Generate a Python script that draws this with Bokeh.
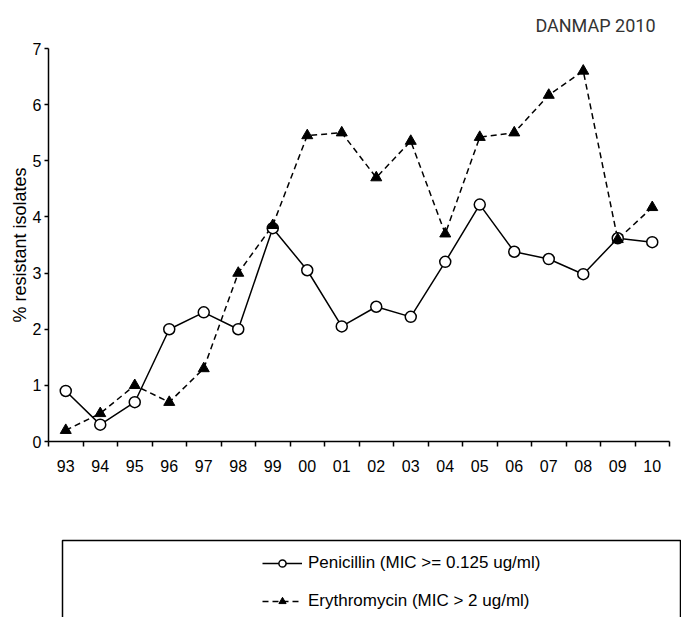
from bokeh.plotting import figure
from bokeh.models import (Range1d, FixedTicker, LinearAxis, Legend,
                          LegendItem, ColumnDataSource, BoxAnnotation)
from bokeh.layouts import column
from bokeh.embed import file_html
from bokeh.resources import INLINE

# ---- data ----
years = ["93", "94", "95", "96", "97", "98", "99", "00", "01",
         "02", "03", "04", "05", "06", "07", "08", "09", "10"]
penicillin = [0.9, 0.3, 0.7, 2.0, 2.3, 2.0, 3.8, 3.05, 2.05,
              2.4, 2.22, 3.2, 4.22, 3.38, 3.25, 2.98, 3.62, 3.55]
erythromycin = [0.2, 0.5, 1.0, 0.7, 1.3, 3.0, 3.85, 5.45, 5.5,
                4.7, 5.35, 3.7, 5.42, 5.5, 6.17, 6.6, 3.6, 4.17]
y_ticks = [0, 1, 2, 3, 4, 5, 6, 7]
pen_label = "Penicillin (MIC >= 0.125 ug/ml)"
ery_label = "Erythromycin (MIC > 2 ug/ml)"
title_text = "DANMAP 2010"
y_label = "% resistant isolates"

FONT = "Liberation Sans"
W, H = 681, 617
FL, FT, FB = 48, 47, 441        # plot area edges (px)
AXIS_RIGHT = 669                # where the category axis ends (px)
TOP_H = 538                     # height of the chart part; legend part below

n = len(years)
ymax = y_ticks[-1]
x_pos = [i + 0.5 for i in range(n)]
source = ColumnDataSource(dict(x=x_pos, year=years, pen=penicillin, ery=erythromycin))

# frame runs to the right canvas edge; the axis itself is bounded to the categories
x_end = n * (W - FL) / (AXIS_RIGHT - FL)

p = figure(width=W, height=TOP_H,
           x_range=Range1d(0, x_end), y_range=Range1d(0, ymax),
           x_axis_type=None, y_axis_type=None,
           output_backend="svg", toolbar_location=None,
           min_border_left=FL, min_border_right=0,
           min_border_top=FT, min_border_bottom=TOP_H - FB)
p.outline_line_color = None
p.background_fill_color = "white"
p.border_fill_color = "white"

p.title.text = title_text
p.title.align = "right"
p.title.offset = 26
p.title.standoff = 25
p.title.text_font = "Roboto"
p.title.text_font_size = "18px"
p.title.text_font_style = "normal"
p.title.text_color = "#333333"

xaxis = LinearAxis(
    ticker=FixedTicker(ticks=x_pos, minor_ticks=list(range(n + 1))),
    major_label_overrides={x: y for x, y in zip(x_pos, years)},
    bounds=(0, n))
xaxis.major_tick_out = 0
xaxis.major_tick_in = 0
xaxis.minor_tick_out = 5
xaxis.minor_tick_in = 0
xaxis.minor_tick_line_color = "black"
xaxis.minor_tick_line_width = 1.5
xaxis.axis_line_color = "black"
xaxis.axis_line_width = 1.5
xaxis.major_label_standoff = 13
xaxis.major_label_text_font = FONT
xaxis.major_label_text_font_size = "16px"
xaxis.major_label_text_color = "black"
p.add_layout(xaxis, "below")

yaxis = LinearAxis(ticker=FixedTicker(ticks=y_ticks), axis_label=y_label)
yaxis.major_tick_out = 4
yaxis.major_tick_in = 0
yaxis.minor_tick_out = 0
yaxis.minor_tick_in = 0
yaxis.major_tick_line_color = "black"
yaxis.major_tick_line_width = 1.5
yaxis.axis_line_color = "black"
yaxis.axis_line_width = 1.5
yaxis.major_label_standoff = 3
yaxis.major_label_text_font = FONT
yaxis.major_label_text_font_size = "16px"
yaxis.major_label_text_color = "black"
yaxis.axis_label_text_font = FONT
yaxis.axis_label_text_font_size = "18px"
yaxis.axis_label_text_font_style = "normal"
yaxis.axis_label_text_color = "black"
yaxis.axis_label_standoff = 0
p.add_layout(yaxis, "left")


def add_series(fig, **names):
    l1 = fig.line("x", "pen", source=source, line_color="black",
                  line_width=1.5, **names)
    l2 = fig.line("x", "ery", source=source, line_color="black",
                  line_width=1.5, line_dash="6 4", **names)
    s1 = fig.scatter("x", "pen", source=source, marker="circle", size=11,
                     fill_color="white", line_color="black", line_width=1.5,
                     **names)
    s2 = fig.scatter("x", "ery", source=source, marker="triangle", size=11,
                     fill_color="black", line_color="black", line_width=1,
                     **names)
    return l1, l2, s1, s2


add_series(p)

# ---- legend part (below the chart) ----
LH = H - TOP_H
q = figure(width=W, height=LH,
           x_range=Range1d(FL, W), y_range=Range1d(0, LH),
           x_axis_type=None, y_axis_type=None,
           output_backend="svg", toolbar_location=None,
           min_border_left=FL, min_border_right=0,
           min_border_top=0, min_border_bottom=0)
q.outline_line_color = None
q.background_fill_color = "white"
q.border_fill_color = "white"
# the legend's own renderers sit on ranges that keep them out of sight
q.extra_x_ranges = {"d": Range1d(0, n)}
q.extra_y_ranges = {"d": Range1d(100, 101)}
ql1, ql2, qs1, qs2 = add_series(q, x_range_name="d", y_range_name="d")

# legend frame: top edge at 540px, left 62px, right 680px, bottom off-page
q.add_layout(BoxAnnotation(left=62, right=680, top=H - 540, bottom=-20,
                           fill_alpha=0, line_color="black",
                           line_width=1.5, line_alpha=1))

legend = Legend(items=[LegendItem(label=pen_label, renderers=[ql1, qs1]),
                       LegendItem(label=ery_label, renderers=[ql2, qs2])],
                location=(262 - FL, H - 611), orientation="vertical",
                border_line_color=None, background_fill_alpha=0,
                padding=0, margin=0, spacing=18,
                glyph_width=40, glyph_height=18, label_height=18,
                label_standoff=6, label_text_font=FONT,
                label_text_font_size="17px", label_text_color="black")
q.add_layout(legend, "center")

layout = column(p, q, spacing=0)

with open("out.html", "w") as f:
    f.write(file_html(layout, INLINE))
